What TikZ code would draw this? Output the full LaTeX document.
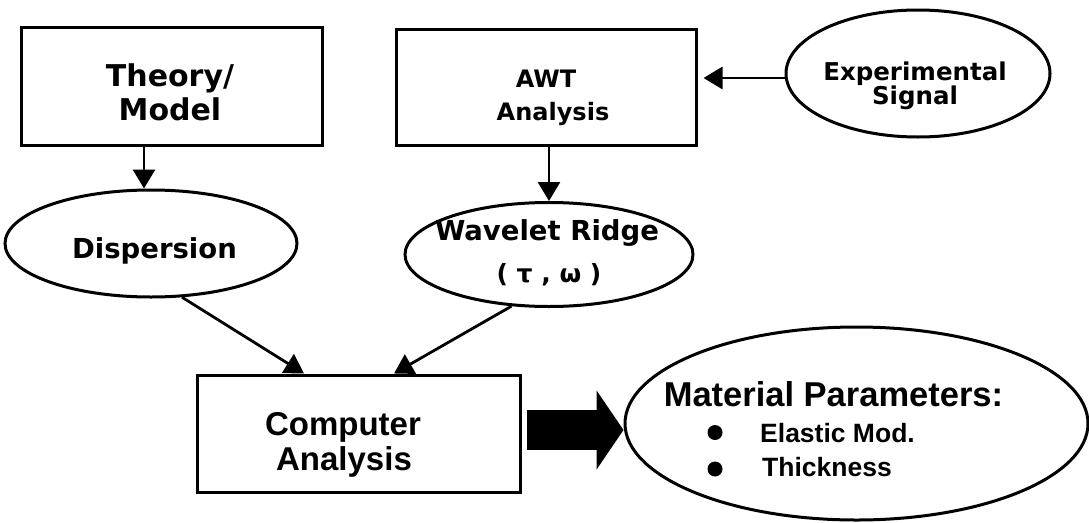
\documentclass[tikz,border=0pt]{standalone}
\usepackage{fontspec}
\newfontfamily\verdanaish{DejaVu Sans}
\newfontfamily\arialish{Liberation Sans}
\usetikzlibrary{arrows.meta,shapes.geometric}

\tikzset{
  box/.style={draw, line width=3pt, rectangle, inner sep=0pt},
  oval/.style={draw, line width=3pt, ellipse, inner sep=0pt},
  arr/.style={line width=2.8pt, -{Triangle[length=19pt,width=22pt]}},
  bigarrow/.style={line width=40pt, -{Triangle[length=27pt,width=78pt]}},
  lbl/.style={inner sep=0pt, anchor=base},
  vtxt/.style={font=\verdanaish\bfseries\fontsize{#1}{#1}\selectfont},
  atxt/.style={font=\arialish\bfseries\fontsize{#1}{#1}\selectfont},
  dot/.style={circle, fill, inner sep=0pt, minimum size=15pt},
}

\begin{document}
\begin{tikzpicture}[x=1pt, y=-1pt]
  \useasboundingbox (0,0) rectangle (1089,522);

  % boxes and ovals
  \node[box, minimum width=301pt, minimum height=118pt] (theory) at (171.5,86) {};
  \node[box, minimum width=300pt, minimum height=116pt] (awt) at (546,87) {};
  \node[oval, minimum width=264pt, minimum height=127pt] (exp) at (918,73.5) {};
  \node[oval, minimum width=292pt, minimum height=107pt] (disp) at (151,243.5) {};
  \node[oval, minimum width=288pt, minimum height=104pt] (wave) at (549,254.5) {};
  \node[box, minimum width=323pt, minimum height=117pt] (comp) at (358.5,433.5) {};
  \node[oval, minimum width=463pt, minimum height=193pt] (mat) at (856.5,423.5) {};

  % labels
  \node[lbl, vtxt=30] (theoryA) at (170,86) {Theory/};
  \node[lbl, vtxt=30] (theoryB) at (170,120) {Model};
  \node[lbl, vtxt=24] (awtA) at (546,87) {AWT};
  \node[lbl, vtxt=24] (awtB) at (553,120) {Analysis};
  \node[lbl, vtxt=24.5] (expA) at (915,80) {Experimental};
  \node[lbl, vtxt=24.5] (expB) at (915,104) {Signal};
  \node[lbl, vtxt=27.5] (dispA) at (154.5,258) {Dispersion};
  \node[lbl, vtxt=27.5] (waveA) at (547,240) {Wavelet Ridge};
  \node[lbl, vtxt=25] (waveB) at (549,282) {( τ , ω )};
  \node[lbl, atxt=33] (compA) at (343,435) {Computer};
  \node[lbl, atxt=33] (compB) at (344,470) {Analysis};
  \node[lbl, atxt=34.5] (matA) at (833.5,406) {Material Parameters:};
  \node[dot] (bul1) at (715,432.5) {};
  \node[dot] (bul2) at (715,469) {};
  \node[lbl, atxt=26.5, anchor=base west] (matB) at (760,442) {Elastic Mod.};
  \node[lbl, atxt=26.5, anchor=base west] (matC) at (762,476) {Thickness};

  % connectors
  \draw[arr] ([xshift=-27.5pt]theory.south) -- ([xshift=-27.5pt]theory.south |- disp.north);
  \draw[arr] (awt.south -| wave.north) -- (wave.north);
  \path (exp.west) ++(0,4.5) coordinate (expout);
  \draw[arr, shorten >=6pt] (expout) -- (expout -| awt.east);
  \draw[arr] (disp.-60) -- ([xshift=-54.5pt]comp.north);
  \draw[arr] (wave.-126) -- ([xshift=35.5pt]comp.north);

  % thick output arrow
  \path (comp.east) ++(5,-3.5) coordinate (bigout);
  \draw[bigarrow] (bigout) -- (bigout -| mat.west);
\end{tikzpicture}
\end{document}
